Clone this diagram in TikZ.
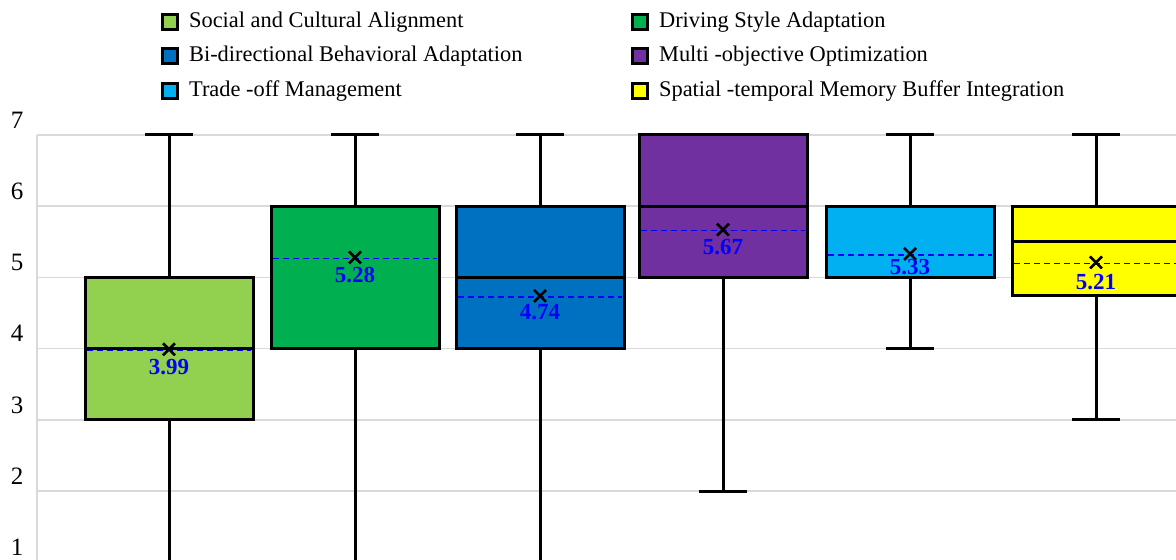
\documentclass[tikz,border=0pt]{standalone}
\usepackage{fontspec}
\setmainfont{Liberation Serif}
\usetikzlibrary{positioning}
\definecolor{lgreen}{HTML}{92D050}
\definecolor{dgreen}{HTML}{00B050}
\definecolor{mblue}{HTML}{0070C0}
\definecolor{mpurple}{HTML}{7030A0}
\definecolor{mcyan}{HTML}{00B0F0}
\definecolor{myellow}{HTML}{FFFF00}
\definecolor{gridgray}{HTML}{D9D9D9}
\tikzset{
    gridline/.style={draw=gridgray, line width=0.75pt},
    whisk/.style={line width=1.5pt},
    boxout/.style={draw, line width=1.5pt},
    meanline/.style={draw=blue, dash pattern=on 3pt off 2pt, line width=0.8pt},
    meanmark/.style={line width=1.3pt},
    meanlabel/.style={text=blue, font=\fontsize{11.5}{13}\selectfont\bfseries, inner sep=0pt},
    legsq/.style={draw, line width=1.2pt, minimum size=7.5pt, inner sep=0pt},
    legtext/.style={font=\fontsize{11.2}{13}\selectfont, inner sep=0pt},
    ticklab/.style={font=\fontsize{12.5}{14}\selectfont, inner sep=0pt} }
% #1 centre, #2 q1, #3 median, #4 q3, #5 low, #6 high, #7 mean, #8 colour, #9 label drop (pt)
\newcommand{\drawbox}[9]{%
    \draw[whisk] (#1,#5) -- (#1,#2) (#1,#4) -- (#1,#6);
    \draw[whisk] (#1-24,#5) -- (#1+24,#5) (#1-24,#6) -- (#1+24,#6);
    \filldraw[boxout, fill=#8] (#1-84,#2) rectangle (#1+84,#4);
    \draw[boxout] (#1-84,#3) -- (#1+84,#3);
    \draw[meanline] ([yshift=-0.5pt]#1-82,#7) -- ([yshift=-0.5pt]#1+82,#7);
    \draw[meanmark] ([shift={(-3pt,-3pt)}]#1,#7) -- ([shift={(3pt,3pt)}]#1,#7)
        ([shift={(-3pt,3pt)}]#1,#7) -- ([shift={(3pt,-3pt)}]#1,#7);
    \node[meanlabel, yshift=-#9pt] at (#1,#7) {#7};}

\begin{document}
\begin{tikzpicture}[x=0.5pt, y=-0.5pt]
    \useasboundingbox (0,0) rectangle (1176,560);
    \clip (0,0) rectangle (1176,560);
    % legend
    \node[legsq, fill=lgreen] (sqSocial) at (170,22) {};
    \node[legtext, right=5pt of sqSocial] (txSocial) {Social and Cultural Alignment};
    \node[legsq, fill=mblue] (sqBidir) at (170,56) {};
    \node[legtext, right=5pt of sqBidir] (txBidir) {Bi-directional Behavioral Adaptation};
    \node[legsq, fill=mcyan] (sqTrade) at (170,91) {};
    \node[legtext, right=5pt of sqTrade] (txTrade) {Trade -off Management};
    \node[legsq, fill=dgreen] (sqDriving) at (640,22) {};
    \node[legtext, right=5pt of sqDriving] (txDriving) {Driving Style Adaptation};
    \node[legsq, fill=mpurple] (sqMulti) at (640,56) {};
    \node[legtext, right=5pt of sqMulti] (txMulti) {Multi -objective Optimization};
    \node[legsq, fill=myellow] (sqSpatial) at (640,91) {};
    \node[legtext, right=5pt of sqSpatial] (txSpatial) {Spatial -temporal Memory Buffer Integration};
    % ----
    \begin{scope}[y=35.6pt, yshift=-316.7pt]
        \foreach \v in {1,...,7} {
            \draw[gridline] (37,\v) -- (1176,\v);
            \node[ticklab] (tick\v) at (17,\v+0.21) {\v};
        }
        \draw[gridline] (37,7) -- (37,0.5);
        \drawbox{169}{3}{4}{5}{1}{7}{3.99}{lgreen}{9}
        \drawbox{355}{4}{6}{6}{1}{7}{5.28}{dgreen}{9}
        \drawbox{540}{4}{5}{6}{1}{7}{4.74}{mblue}{8}
        \drawbox{723}{5}{6}{7}{2}{7}{5.67}{mpurple}{8.5}
        \drawbox{910}{5}{5}{6}{4}{7}{5.33}{mcyan}{6.5}
        \drawbox{1096}{4.75}{5.5}{6}{3}{7}{5.21}{myellow}{10}
    \end{scope}
\end{tikzpicture}
\end{document}
